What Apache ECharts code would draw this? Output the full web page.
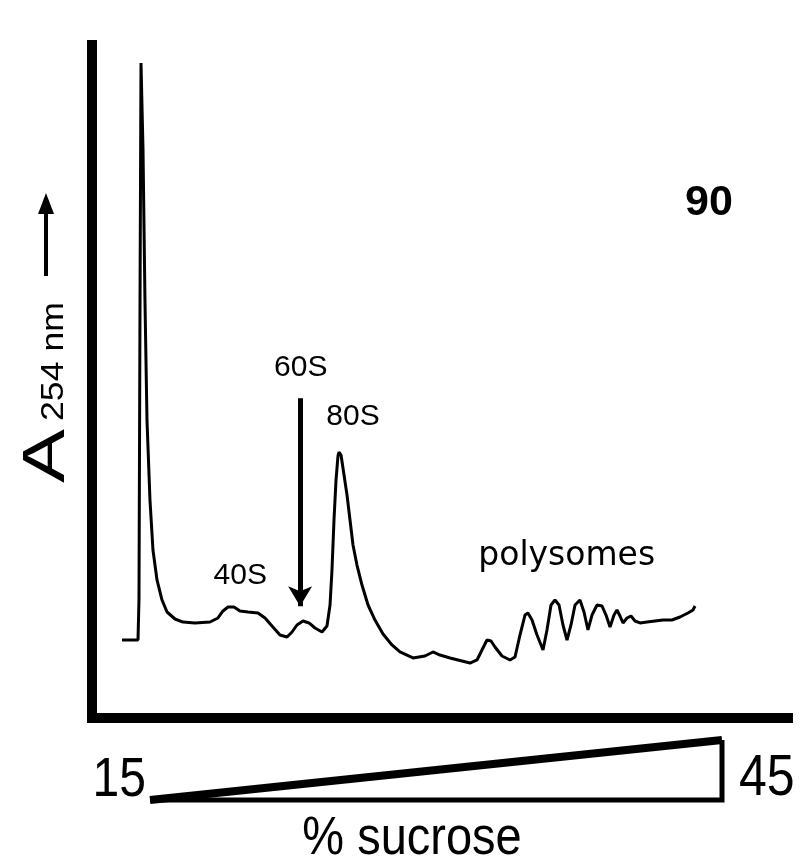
<!DOCTYPE html>
<html>
<head>
<meta charset="utf-8">
<script src="https://cdn.jsdelivr.net/npm/echarts@6/dist/echarts.min.js"></script>
<style>
  html, body { margin: 0; padding: 0; background: #fff; }
  #container { width: 802px; height: 865px; }
</style>
</head>
<body>
<div id="container"></div>
<script>
// gradient position (arbitrary units, 0 = top of tube side)
const position = [
  4.31, 6.61, 6.75, 6.90, 7.04, 7.33, 7.61, 7.90, 8.33, 8.76, 9.34, 10.06, 10.78, 11.93,
  13.07, 14.80, 16.95, 18.10, 18.82, 19.54, 20.40, 21.26, 22.41, 23.85, 24.86, 25.86,
  27.01, 28.02, 28.74, 29.45, 30.32, 31.18, 32.04, 33.05, 33.76, 34.20, 34.48, 34.77,
  35.06, 35.34, 35.49, 35.78, 36.21, 36.64, 37.07, 37.50, 38.07, 38.79, 39.66, 40.66,
  41.81, 43.10, 44.25, 46.12, 47.84, 48.99, 50.00, 51.44, 54.31, 55.32, 56.03, 56.75,
  57.33, 57.90, 58.91, 60.06, 60.78, 61.49, 62.21, 62.64, 63.22, 63.94, 64.80, 65.37,
  65.95, 66.52, 67.10, 67.67, 68.25, 68.82, 69.40, 70.11, 70.69, 71.26, 71.84, 72.56,
  73.28, 73.85, 74.43, 75.00, 75.43, 75.86, 76.29, 76.87, 77.44, 78.02, 78.74, 79.74,
  80.89, 82.04, 83.33, 84.48, 85.63, 86.35, 86.64
]
// A254 (relative)
const absorbance = [
  11.59, 11.59, 17.53, 62.11, 97.33, 84.40, 62.11, 44.28, 32.39, 24.96, 20.51, 17.53, 15.75, 14.71,
  14.26, 14.12, 14.26, 14.86, 15.90, 16.49, 16.49, 15.90, 15.75, 15.60, 14.86, 13.67,
  12.33, 12.04, 12.78, 13.82, 14.41, 14.12, 13.37, 12.78, 13.67, 16.79, 21.99, 29.42,
  35.36, 38.93, 39.52, 39.08, 36.11, 33.14, 29.42, 25.71, 22.73, 19.76, 16.79, 14.56,
  12.48, 10.85, 9.81, 8.92, 9.21, 9.81, 9.36, 8.92, 8.17, 8.62, 10.10, 11.59,
  11.44, 10.55, 9.21, 8.62, 9.06, 12.33, 15.30, 15.60, 14.56, 12.33, 10.10, 13.08,
  16.79, 17.53, 16.79, 13.82, 11.59, 13.82, 16.79, 17.53, 15.75, 13.08, 15.30, 16.79,
  16.64, 15.30, 13.52, 15.30, 16.05, 15.16, 14.12, 14.86, 15.16, 14.41, 14.12, 14.26,
  14.41, 14.56, 14.56, 15.01, 15.60, 16.05, 16.64
]
const peakNames = ['40S', '60S', '80S', 'polysomes']
const sucroseRange = [15, 45]
const panelLabel = '90'

const profile = position.map((x, i) => [x, absorbance[i]])
const lo = sucroseRange[0], hi = sucroseRange[1]

const font = '"Liberation Sans", Arial, sans-serif'

let mychart = echarts.init(document.getElementById('container'))
mychart.setOption({
  animation: false,
  backgroundColor: '#fff',
  grid: [
    { left: 92, right: 14, top: 45, bottom: 147 },
    { left: 150, right: 80, top: 740, height: 60 }
  ],
  xAxis: [
    {
      type: 'value', min: 0, max: 100, gridIndex: 0,
      axisLine: { show: true, lineStyle: { color: '#000', width: 10, cap: 'square' } },
      axisTick: { show: false }, axisLabel: { show: false }, splitLine: { show: false }
    },
    { type: 'value', min: lo, max: hi, gridIndex: 1, show: false }
  ],
  yAxis: [
    {
      type: 'value', min: 0, max: 100, gridIndex: 0,
      axisLine: { show: true, lineStyle: { color: '#000', width: 10, cap: 'square' } },
      axisTick: { show: false }, axisLabel: { show: false }, splitLine: { show: false }
    },
    { type: 'value', min: lo, max: hi, gridIndex: 1, show: false }
  ],
  series: [
    {
      type: 'line',
      data: profile,
      showSymbol: false,
      clip: false,
      silent: true,
      lineStyle: { color: '#000', width: 3 },
      markPoint: {
        symbol: 'circle',
        symbolSize: 0,
        silent: true,
        label: { show: true, position: 'inside', color: '#000', fontFamily: font, fontSize: 30, formatter: '{b}' },
        data: [
          { name: peakNames[0], coord: [21.3, 21.2] },
          { name: peakNames[1], coord: [30.0, 52.0] },
          { name: peakNames[2], coord: [37.5, 44.7] },
          { name: peakNames[3], coord: [68.2, 24.0], label: { fontSize: 33, fontFamily: '"DejaVu Sans", sans-serif' } }
        ]
      },
      markLine: {
        silent: true,
        symbol: ['none', 'arrow'],
        symbolSize: [18, 20],
        label: { show: false },
        lineStyle: { color: '#000', width: 5, type: 'solid' },
        data: [[{ coord: [29.9, 47.5] }, { coord: [29.9, 16.6] }]]
      }
    },
    {
      // gradient wedge: bottom and right edge
      type: 'line', xAxisIndex: 1, yAxisIndex: 1,
      data: [[lo, lo], [hi, lo], [hi, hi]],
      showSymbol: false, clip: false, silent: true,
      lineStyle: { color: '#000', width: 5, join: 'miter' }
    },
    {
      // gradient wedge: rising edge
      type: 'line', xAxisIndex: 1, yAxisIndex: 1,
      data: [[lo, lo], [hi, hi]],
      showSymbol: false, clip: false, silent: true,
      lineStyle: { color: '#000', width: 8 }
    }
  ],
  graphic: [
    { type: 'text', x: 709, y: 203, style: { text: panelLabel, font: 'bold 43px ' + font, fill: '#000', textAlign: 'center', textVerticalAlign: 'middle' } },
    { type: 'text', x: 47, y: 483, rotation: Math.PI / 2, scaleX: 1.35, style: { text: 'A', font: '60px ' + font, fill: '#000', textAlign: 'left', textVerticalAlign: 'middle' } },
    { type: 'text', x: 54, y: 421, rotation: Math.PI / 2, scaleX: 1.15, style: { text: '254 nm', font: '31px ' + font, fill: '#000', textAlign: 'left', textVerticalAlign: 'middle' } },
    { type: 'line', shape: { x1: 46, y1: 276, x2: 46, y2: 208 }, style: { stroke: '#000', lineWidth: 4 } },
    { type: 'polygon', shape: { points: [[38, 214], [54, 214], [46, 193]] }, style: { fill: '#000' } },
    { type: 'text', x: 146, y: 781, scaleY: 1.15, style: { text: String(lo), font: '48px ' + font, fill: '#000', textAlign: 'right', textVerticalAlign: 'middle' } },
    { type: 'text', x: 739, y: 779, scaleY: 1.15, style: { text: String(hi), font: '50px ' + font, fill: '#000', textAlign: 'left', textVerticalAlign: 'middle' } },
    { type: 'text', x: 412, y: 839, scaleY: 1.15, style: { text: '% sucrose', font: '47px ' + font, fill: '#000', textAlign: 'center', textVerticalAlign: 'middle' } }
  ]
})

window.addEventListener('resize', () => { mychart.resize() })
</script>
</body>
</html>
